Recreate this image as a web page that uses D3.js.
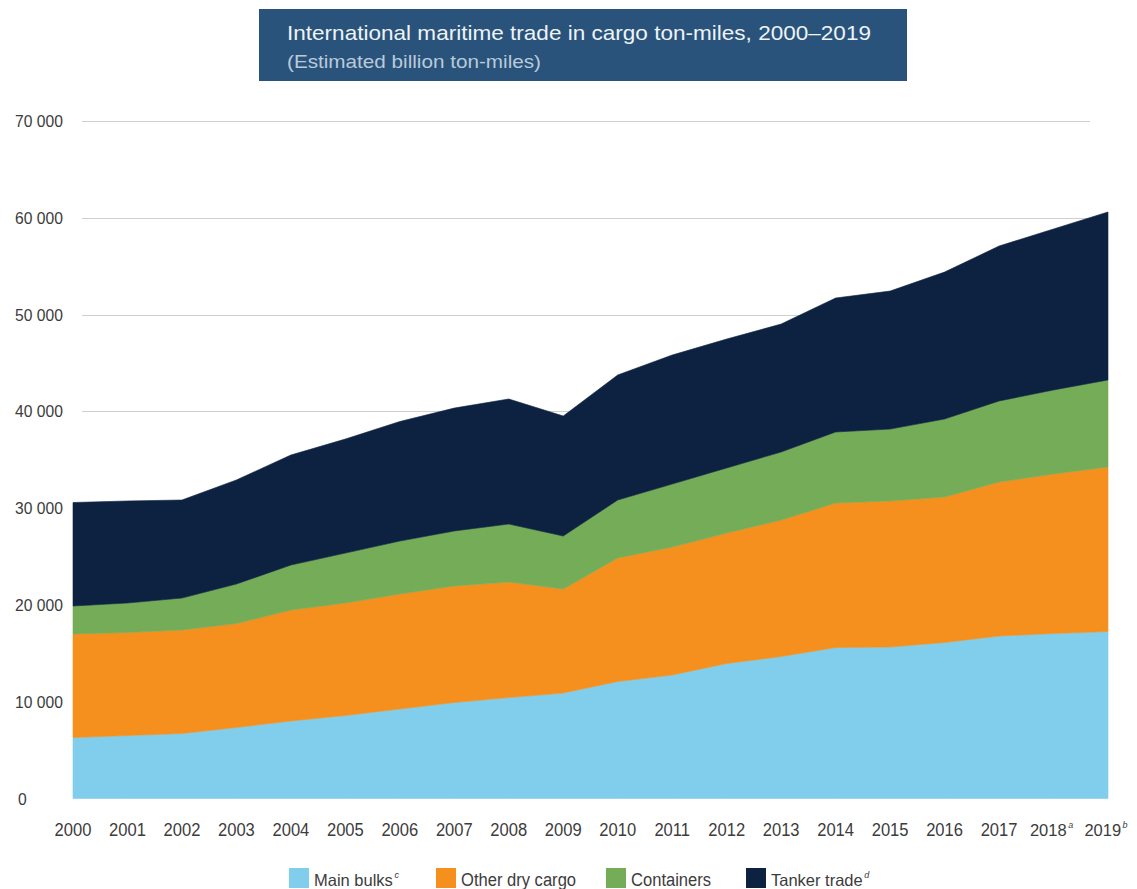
<!DOCTYPE html>
<html>
<head>
<meta charset="utf-8">
<script src="https://cdn.jsdelivr.net/npm/d3@7"></script>
<style>
  html, body { margin: 0; padding: 0; background: #ffffff; }
  svg { display: block; }
  text { font-family: "Liberation Sans", Arial, sans-serif; }
</style>
</head>
<body>
<svg id="chart" width="1137" height="889"></svg>
<script>
// Years and their axis labels (with footnote markers)
const years = [2000, 2001, 2002, 2003, 2004, 2005, 2006, 2007, 2008, 2009,
               2010, 2011, 2012, 2013, 2014, 2015, 2016, 2017, 2018, 2019];
const yearNotes = {2018: "a", 2019: "b"};

// Estimated billion ton-miles per segment
const mainBulks     = [6300, 6510, 6720, 7340, 8010, 8580, 9250, 9920, 10430, 10900,
                       12090, 12760, 13950, 14670, 15600, 15650, 16120, 16790, 17050, 17250];
const otherDryCargo = [10700, 10640, 10690, 10740, 11460, 11620, 11880, 12040, 11940, 10740,
                       12760, 13220, 13480, 14100, 14930, 15090, 15030, 15910, 16480, 17000];
const containers    = [2890, 3050, 3300, 4080, 4650, 5160, 5470, 5680, 5990, 5480,
                       5990, 6510, 6720, 7030, 7340, 7430, 8060, 8370, 8680, 8990];
const tankerTrade   = [10690, 10540, 10130, 10750, 11370, 11780, 12350, 12700, 12920, 12400,
                       12920, 13330, 13320, 13220, 13840, 14260, 15180, 16010, 16630, 17360];

const seriesKeys   = ["mainBulks", "otherDry", "containers", "tanker"];
const seriesNames  = ["Main bulks", "Other dry cargo", "Containers", "Tanker trade"];
const seriesNotes  = ["c", "", "", "d"];
const seriesColors = ["#80cdec", "#f5901e", "#75ac58", "#0d2241"];

const yTicks = [0, 10000, 20000, 30000, 40000, 50000, 60000, 70000];

const title    = "International maritime trade in cargo ton-miles, 2000\u20132019";
const subtitle = "(Estimated billion ton-miles)";

// Build rows for the stack layout
const rows = years.map((yr, i) => ({
  year: yr,
  mainBulks: mainBulks[i],
  otherDry: otherDryCargo[i],
  containers: containers[i],
  tanker: tankerTrade[i]
}));

const svg = d3.select("#chart");
const SQUEEZE = 0.92;   // condensed look for the sans face

// Label text; condensed unless it carries a superscript note
function label(parent, opts) {
  const t = parent.append("text")
    .attr("x", opts.x).attr("y", opts.y)
    .attr("font-size", opts.size)
    .attr("fill", opts.fill)
    .attr("text-anchor", opts.anchor || "start");
  const main = t.append("tspan").text(opts.text);
  if (opts.note) {
    t.append("tspan")
      .attr("dx", 1.5)
      .attr("dy", -8)
      .attr("font-size", 9)
      .attr("font-style", "italic")
      .text(opts.note);
  } else {
    const w = opts.width || main.node().getComputedTextLength() * SQUEEZE;
    main.attr("textLength", w).attr("lengthAdjust", "spacingAndGlyphs");
  }
  return t;
}

// Title banner
svg.append("rect")
  .attr("x", 259).attr("y", 9)
  .attr("width", 648).attr("height", 72)
  .attr("fill", "#29537a");
label(svg, {x: 287, y: 40, size: 21, fill: "#eef3f8", text: title, width: 584});
label(svg, {x: 287, y: 68, size: 19, fill: "#b9cadb", text: subtitle, width: 254});

// Scales
const x = d3.scaleLinear().domain([2000, 2019]).range([73, 1108]);
const y = d3.scaleLinear().domain([0, 70000]).range([798.5, 121]);

// Horizontal gridlines
svg.append("g")
  .selectAll("line")
  .data(yTicks.filter(t => t > 0))
  .join("line")
  .attr("x1", 82).attr("x2", 1090)
  .attr("y1", d => Math.round(y(d)) + 0.5)
  .attr("y2", d => Math.round(y(d)) + 0.5)
  .attr("stroke", "#cfcfcf")
  .attr("stroke-width", 1.2);

// Y axis labels
const yAxis = svg.append("g");
yTicks.forEach(t => {
  const txt = t === 0 ? "0" : d3.format(",")(t).replace(/,/g, " ");
  label(yAxis, {x: t === 0 ? 18 : 15, y: y(t) + 6, size: 17, fill: "#3c3c3c", text: txt});
});

// Stacked areas
const stack = d3.stack().keys(seriesKeys);
const layers = stack(rows);
const area = d3.area()
  .x(d => x(d.data.year))
  .y0(d => y(d[0]))
  .y1(d => y(d[1]))
  .curve(d3.curveLinear);

svg.append("g")
  .selectAll("path")
  .data(layers)
  .join("path")
  .attr("d", area)
  .attr("fill", (d, i) => seriesColors[i])
  .attr("stroke", (d, i) => seriesColors[i])
  .attr("stroke-width", 0.6);

// X axis labels
const xAxis = svg.append("g");
years.forEach(yr => {
  const note = yearNotes[yr];
  label(xAxis, {
    x: x(yr) + (note ? -2 : 0), y: 836, size: note ? 16.5 : 18, fill: "#3c3c3c",
    text: String(yr), anchor: "middle", note: note
  });
});

// Legend
const legendX = [289, 436, 606, 746];
const legend = svg.append("g");
seriesNames.forEach((name, i) => {
  legend.append("rect")
    .attr("x", legendX[i]).attr("y", 868)
    .attr("width", 20).attr("height", 20)
    .attr("fill", seriesColors[i]);
  label(legend, {
    x: legendX[i] + 25, y: 886, size: seriesNotes[i] ? 16.5 : 18, fill: "#3c3c3c",
    text: name, note: seriesNotes[i] || null
  });
});
</script>
</body>
</html>
